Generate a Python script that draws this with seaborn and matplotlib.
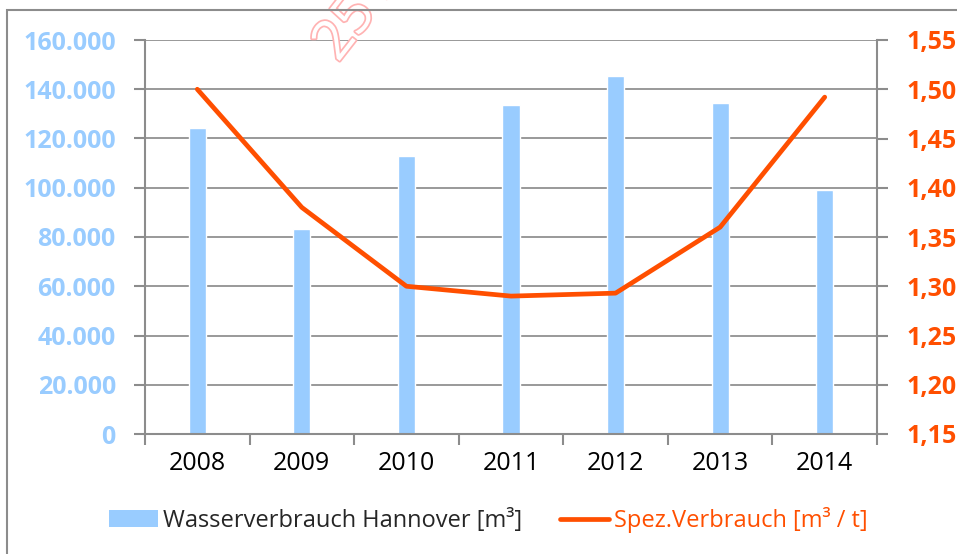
import numpy as np
import pandas as pd
import matplotlib.pyplot as plt
import matplotlib.patheffects as pe
from matplotlib.lines import Line2D
from matplotlib.patches import Patch, Rectangle
from matplotlib.ticker import FuncFormatter, FixedLocator
import seaborn as sns

# --- data ---
years = ["2008", "2009", "2010", "2011", "2012", "2013", "2014"]
wasser = [124300, 83400, 112900, 133600, 145500, 134300, 99100]
spez = [1.500, 1.380, 1.300, 1.290, 1.293, 1.360, 1.492]

bar_color = "#99CCFF"
line_color = "#FF4F00"
grey = "#8C8C8C"

sns.set_style("white")
plt.rcParams["font.family"] = ["Open Sans", "DejaVu Sans"]

df = pd.DataFrame({"Jahr": years, "Wasser": wasser, "Spez": spez})
df["pos"] = np.arange(len(years))

fig = plt.figure(figsize=(9.57, 5.54), dpi=100)
ax = fig.add_axes([145 / 957, 1 - 434 / 554, 732 / 957, 394 / 554])

# --- bars (left axis) ---
sns.barplot(data=df, x="Jahr", y="Wasser", color=bar_color, width=0.165,
            saturation=1, ax=ax, zorder=2)
ax.set_ylim(0, 160000)
ax.set_xlim(-0.5, len(years) - 0.5)
ax.set_yticks(np.arange(0, 160001, 20000))
ax.yaxis.set_major_formatter(FuncFormatter(lambda v, p: f"{int(v):,}".replace(",", ".")))
ax.grid(axis="y", color="#999999", linewidth=1.4, zorder=0)
ax.set_axisbelow(True)
ax.set_xlabel("")
ax.set_ylabel("")

# --- line (right axis) ---
ax2 = ax.twinx()
sns.lineplot(data=df, x="pos", y="Spez", color=line_color, linewidth=3.4,
             ax=ax2, solid_capstyle="round")
ax2.set_ylim(1.15, 1.55)
ax2.set_yticks(np.arange(1.15, 1.5501, 0.05))
ax2.yaxis.set_major_formatter(FuncFormatter(lambda v, p: f"{v:.2f}".replace(".", ",")))
ax2.set_xlim(-0.5, len(years) - 0.5)
ax2.set_ylabel("")
ax2.set_xlabel("")

# --- spines and ticks ---
for a in (ax, ax2):
    for s in a.spines.values():
        s.set_visible(False)
ax.spines["left"].set_visible(True)
ax.spines["bottom"].set_visible(True)
ax2.spines["right"].set_visible(True)
for s in (ax.spines["left"], ax.spines["bottom"], ax2.spines["right"]):
    s.set_color(grey)
    s.set_linewidth(1.5)

ax.tick_params(axis="y", colors=grey, length=8, width=1.5, direction="out",
               labelcolor=bar_color, labelsize=18, pad=13, left=True)
for t in ax.get_yticklabels():
    t.set_fontweight("bold")
ax2.tick_params(axis="y", colors=grey, length=8, width=1.5, direction="out",
                labelcolor=line_color, labelsize=18, pad=13, right=True)
for t in ax2.get_yticklabels():
    t.set_fontweight("bold")

ax.xaxis.set_minor_locator(FixedLocator(np.arange(-0.5, len(years), 1.0)))
ax.tick_params(axis="x", which="major", length=0, labelsize=18, pad=12,
               labelcolor="black")
ax.tick_params(axis="x", which="minor", length=8, width=1.5, color=grey,
               direction="out", bottom=True)

# --- legend ---
handles = [Patch(facecolor=bar_color, edgecolor="none"),
           Line2D([0], [0], color=line_color, linewidth=3.4, solid_capstyle="round")]
labels = ["Wasserverbrauch Hannover [m³]", "Spez.Verbrauch [m³ / t]"]
leg = fig.legend(handles, labels, loc="center", bbox_to_anchor=(0.51, 1 - 520 / 554),
                 ncol=2, frameon=False, fontsize=17, handlelength=2.1,
                 handleheight=0.7, handletextpad=0.2, columnspacing=1.6)
leg.get_texts()[1].set_color(line_color)

# --- outer frame and watermark ---
fig.patches.append(Rectangle((7 / 957, -0.1), 1.2, 1.1 - 10 / 554,
                             transform=fig.transFigure, fill=False,
                             edgecolor=grey, linewidth=1.5))
fig.text(338 / 957, 1 - 63 / 554, "25 S", rotation=52, rotation_mode="anchor",
         fontsize=40, color="white", ha="left", va="baseline", zorder=0,
         path_effects=[pe.withStroke(linewidth=2.5, foreground="#FFB3B3")])

fig.savefig("out.png", dpi=100)
